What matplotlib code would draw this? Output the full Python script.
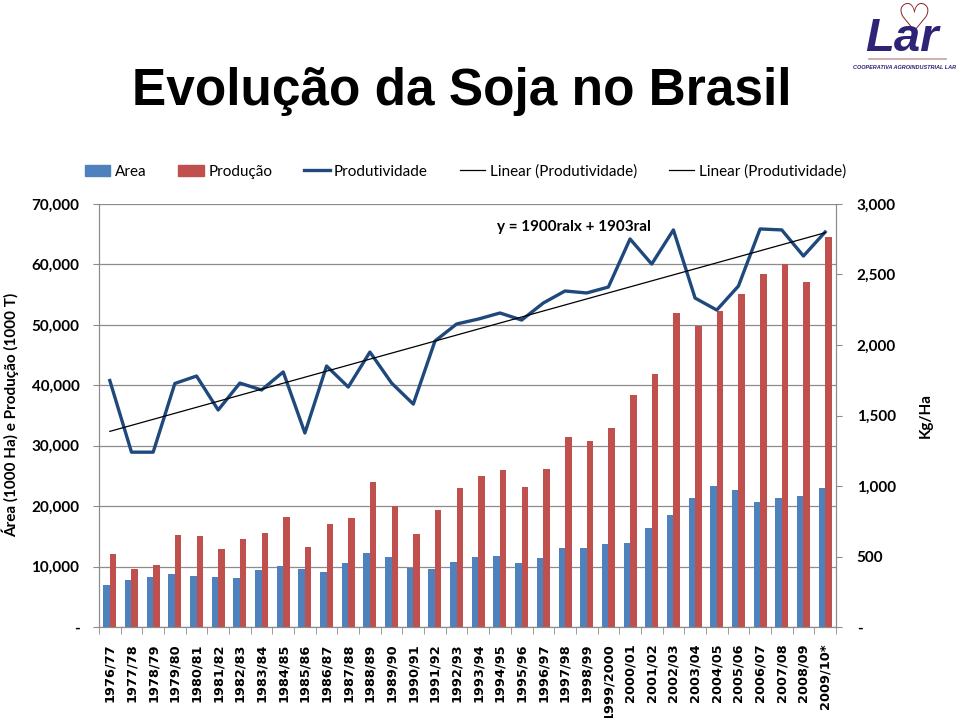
import numpy as np
import matplotlib
matplotlib.use('Agg')
import matplotlib.pyplot as plt
from matplotlib.lines import Line2D
from matplotlib.patches import Patch

safras = ['1976/77', '1977/78', '1978/79', '1979/80', '1980/81', '1981/82', '1982/83',
          '1983/84', '1984/85', '1985/86', '1986/87', '1987/88', '1988/89', '1989/90',
          '1990/91', '1991/92', '1992/93', '1993/94', '1994/95', '1995/96', '1996/97',
          '1997/98', '1998/99', '1999/2000', '2000/01', '2001/02', '2002/03', '2003/04',
          '2004/05', '2005/06', '2006/07', '2007/08', '2008/09', '2009/10*']

# area em 1000 ha
area = [6949, 7782, 8256, 8774, 8501, 8203, 8137, 9421, 10153, 9589, 9179, 10519,
        12203, 11551, 9743, 9582, 10717, 11525, 11679, 10663, 11381, 13158, 13061,
        13694, 13970, 16386, 18475, 21376, 23301, 22749, 20687, 21313, 21743, 23000]

# producao em 1000 t
producao = [12145, 9541, 10240, 15156, 15007, 12836, 14582, 15541, 18278, 13207,
            16977, 18016, 23929, 20101, 15395, 19419, 23042, 25059, 25934, 23190,
            26160, 31370, 30765, 32890, 38432, 41917, 52018, 49793, 52305, 55027,
            58392, 60018, 57166, 64500]

# produtividade em kg/ha
produtividade = [1748, 1240, 1240, 1727, 1780, 1539, 1730, 1681, 1809, 1376, 1851,
                 1702, 1950, 1730, 1581, 2028, 2149, 2184, 2227, 2177, 2298, 2383,
                 2369, 2411, 2752, 2574, 2816, 2333, 2248, 2418, 2823, 2816, 2631, 2801]

C_AREA = '#4f81bd'
C_PROD = '#c0504d'
C_LINE = '#1f497d'
BODY = ['Lato', 'DejaVu Sans']

x = np.arange(len(safras))
w = 0.3

fig = plt.figure(figsize=(9.6, 7.18), dpi=100, facecolor='white')
ax = fig.add_axes([0.1031, 0.1267, 0.7677, 0.5892])

ax.bar(x - w / 2, area, width=w, color=C_AREA, zorder=2)
ax.bar(x + w / 2, producao, width=w, color=C_PROD, zorder=2)
ax.set_ylim(0, 70000)
ax.set_xlim(-0.5, len(safras) - 0.5)
ax.set_yticks(np.arange(0, 70001, 10000))
ax.set_yticklabels(['-'] + [f'{v:,}' for v in range(10000, 70001, 10000)],
                   family=BODY, fontweight='bold', fontsize=11)
ax.yaxis.grid(True, color='#8c8c8c', linewidth=0.9, zorder=0)
ax.set_axisbelow(True)

ax.set_xticks(x)
ax.set_xticklabels(safras, rotation=90, family='DejaVu Sans', fontweight='bold', fontsize=9.3)
ax.set_xticks(np.arange(-0.5, len(safras), 1), minor=True)
ax.tick_params(axis='x', which='major', length=0, pad=12)
ax.tick_params(axis='x', which='minor', length=5, color='#8c8c8c')
ax.tick_params(axis='y', length=4, color='#8c8c8c', pad=10)

ax.spines['top'].set_visible(False)
for s in ['left', 'right', 'bottom']:
    ax.spines[s].set_color('#8c8c8c')

fig.text(0.011, 0.422, 'Área (1000 Ha) e Produção (1000 T)', rotation=90, ha='center',
         va='center', family=BODY, fontweight='bold', fontsize=11)

ax2 = ax.twinx()
ax2.plot(x, produtividade, color=C_LINE, linewidth=2.4, zorder=4)
coef = np.polyfit(x, produtividade, 1)
ax2.plot(x, np.polyval(coef, x), color='black', linewidth=0.9, zorder=5)
ax2.set_ylim(0, 3000)
ax2.set_yticks(np.arange(0, 3001, 500))
ax2.set_yticklabels(['-'] + [f'{v:,}' for v in range(500, 3001, 500)],
                    family=BODY, fontweight='bold', fontsize=11)
ax2.tick_params(axis='y', length=4, color='#8c8c8c', pad=11)
ax2.spines['top'].set_visible(False)
for s in ['left', 'right', 'bottom']:
    ax2.spines[s].set_color('#8c8c8c')

fig.text(0.964, 0.422, 'Kg/Ha', rotation=90, ha='center', va='center',
         family=BODY, fontweight='bold', fontsize=11)

ax2.text(0.645, 0.945, 'y = 1900ralx + 1903ral', transform=ax.transAxes, ha='center',
         va='center', family=BODY, fontweight='bold', fontsize=11)

handles = [Patch(color=C_AREA), Patch(color=C_PROD),
           Line2D([], [], color=C_LINE, linewidth=2.4),
           Line2D([], [], color='black', linewidth=0.9),
           Line2D([], [], color='black', linewidth=0.9)]
labels = ['Area', 'Produção', 'Produtividade', 'Linear (Produtividade)', 'Linear (Produtividade)']
fig.legend(handles, labels, loc='center', bbox_to_anchor=(0.485, 0.761), ncol=5,
           frameon=False, prop={'family': BODY, 'size': 11}, handlelength=1.65,
           handletextpad=0.3, columnspacing=2.1)

fig.text(0.481, 0.854, 'Evolução da Soja no Brasil', ha='center', va='baseline',
         family=['Liberation Sans Narrow', 'Liberation Sans', 'DejaVu Sans'],
         fontweight='bold', fontsize=37)

# logo
fig.text(0.952, 0.972, '♡', ha='center', va='center', color='#8b1c1c', fontsize=28,
         family='DejaVu Sans')
fig.text(0.94, 0.945, 'Lar', ha='center', va='center', color='#2e2477', fontsize=34,
         fontweight='bold', style='italic', family=['Liberation Sans', 'DejaVu Sans'])
fig.add_artist(Line2D([0.905, 0.985], [0.918, 0.918], color='#c9a0a0', linewidth=1.2))
fig.text(0.942, 0.906, 'COOPERATIVA AGROINDUSTRIAL LAR', ha='center', va='center',
         color='#2e2477', fontsize=4.0, fontweight='bold', style='italic',
         family=['Liberation Sans', 'DejaVu Sans'])

fig.savefig('out.png', dpi=100, facecolor='white')
